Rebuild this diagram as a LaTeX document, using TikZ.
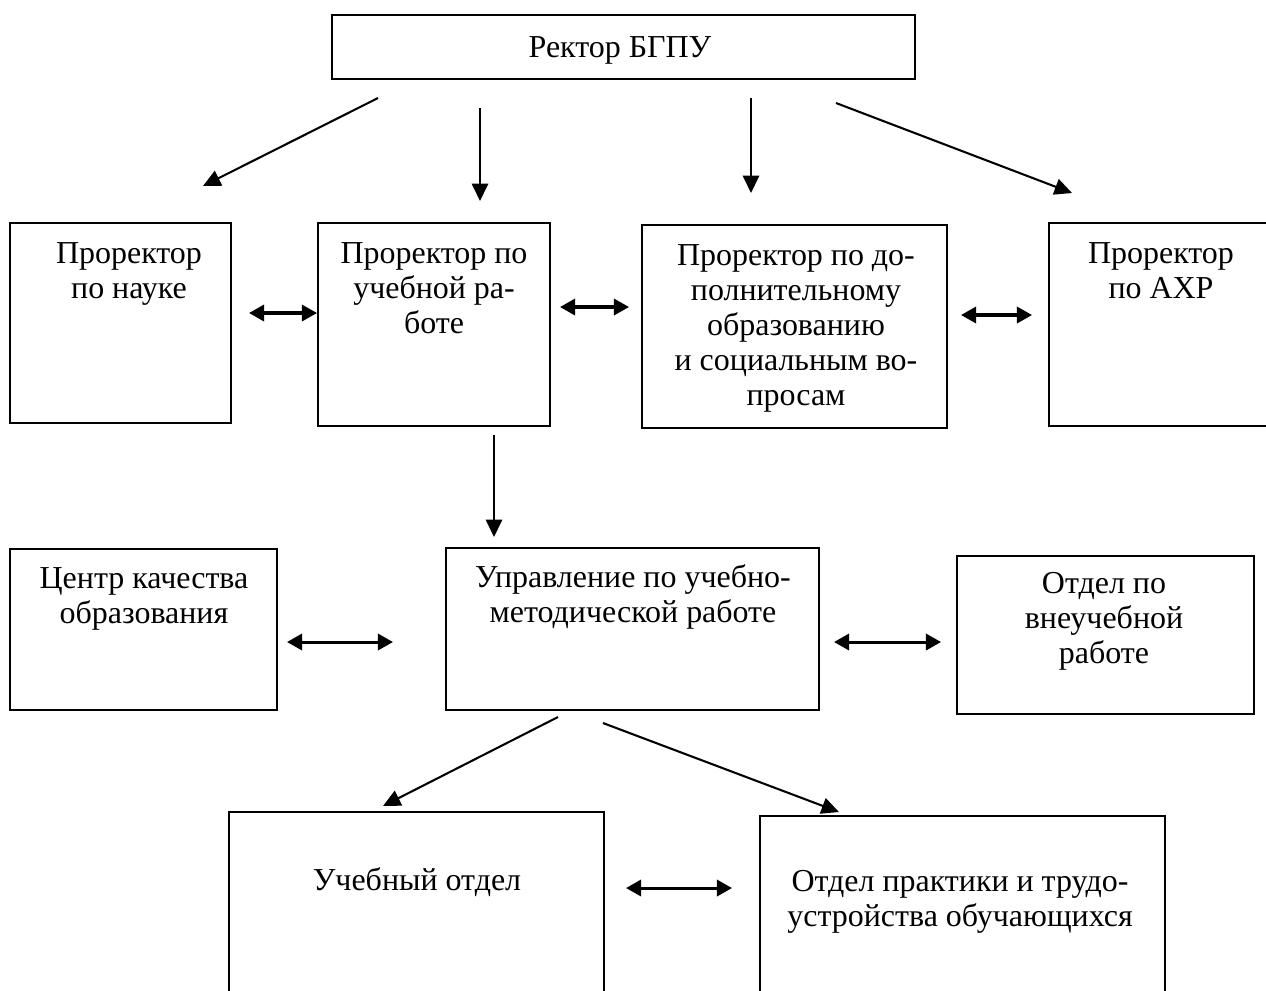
\documentclass[tikz,border=0pt]{standalone}
\usepackage{fontspec}
\setmainfont{Liberation Serif}
\usepackage{tikz}
\usetikzlibrary{arrows.meta}
\usetikzlibrary{fit}

\tikzset{
  blok/.style={draw, line width=0.85pt, inner sep=0pt},
  txt/.style={inner sep=0pt, align=center, anchor=north, font=\fontsize{14.7}{16.1}\selectfont},
  strelka/.style={line width=0.95pt, -{Triangle[length=8pt,width=7.5pt]}},
  dvoy/.style={line width=1.4pt, {Triangle[length=7pt,width=7.5pt]}-{Triangle[length=7pt,width=7.5pt]}}
}

\begin{document}
\begin{tikzpicture}[x=0.46pt, y=-0.46pt]
\useasboundingbox (0,0) rectangle (1266,990);
\clip (0,0) rectangle (1266,990);

\node [blok, fit={(332,15) (915,79)}] (REKTOR) {};
\node [blok, fit={(10,223) (231,423)}] (NAUKA) {};
\node [blok, fit={(318,223) (550,426)}] (UCHEB) {};
\node [blok, fit={(642,225) (947,428)}] (DOP) {};
\node [blok, fit={(1049,223) (1300,426)}] (AXR) {};
\node [blok, fit={(10,549) (277,710)}] (CENTR) {};
\node [blok, fit={(446,548) (819,710)}] (UPRAV) {};
\node [blok, fit={(957,556) (1254,714)}] (VNEUCH) {};
\node [blok, fit={(229,812) (604,1010)}] (UCHOTD) {};
\node [blok, fit={(760,816) (1165,1010)}] (PRAKT) {};

\node [txt] (REKTORt) at (620,35.8) {Ректор БГПУ};
\node [txt] (NAUKAt) at (129,241.8) {Проректор\\по науке};
\node [txt] (UCHEBt) at (434,241.8) {Проректор по\\учебной ра-\\боте};
\node [txt] (DOPt) at (796,243.8) {Проректор по до-\\полнительному\\образованию\\и социальным во-\\просам};
\node [txt] (AXRt) at (1161,241.8) {Проректор\\по АХР};
\node [txt] (CENTRt) at (144,566.8) {Центр качества\\образования};
\node [txt] (UPRAVt) at (633,563.8) {Управление по учебно-\\методической работе};
\node [txt] (VNEUCHt) at (1104,571.8) {Отдел по\\внеучебной\\работе};
\node [txt] (UCHOTDt) at (417,866.8) {Учебный отдел};
\node [txt] (PRAKTt) at (960,869.8) {Отдел практики и трудо-\\устройства обучающихся};

% free ends of the arrows
\coordinate (r1) at (378,98);   \coordinate (n1) at (203,186);
\coordinate (r2) at (480,108);  \coordinate (u1) at (480,201);
\coordinate (r3) at (751,98);   \coordinate (d1) at (751,193);
\coordinate (r4) at (836,103);  \coordinate (a1) at (1072,193);
\coordinate (u2) at (494,435);  \coordinate (m1) at (494,537);
\coordinate (m2) at (558,717);  \coordinate (o1) at (383,806);
\coordinate (m3) at (603,723);  \coordinate (p1) at (839,812);

\draw [strelka] (r1) -- (n1);
\draw [strelka] (r2) -- (u1);
\draw [strelka] (r3) -- (d1);
\draw [strelka] (r4) -- (a1);
\draw [strelka] (u2) -- (m1);
\draw [strelka] (m2) -- (o1);
\draw [strelka] (m3) -- (p1);

\coordinate (h1) at (249,313);  \coordinate (h2) at (317,313);
\coordinate (h3) at (560,307);  \coordinate (h4) at (629,307);
\coordinate (h5) at (961,315);  \coordinate (h6) at (1032,315);
\coordinate (h7) at (287,642);  \coordinate (h8) at (393,642);
\coordinate (h9) at (834,642);  \coordinate (h10) at (941,642);
\coordinate (h11) at (626,888); \coordinate (h12) at (732,888);

\draw [dvoy] (h1) -- (h2);
\draw [dvoy] (h3) -- (h4);
\draw [dvoy] (h5) -- (h6);
\draw [dvoy] (h7) -- (h8);
\draw [dvoy] (h9) -- (h10);
\draw [dvoy] (h11) -- (h12);
\end{tikzpicture}
\end{document}
